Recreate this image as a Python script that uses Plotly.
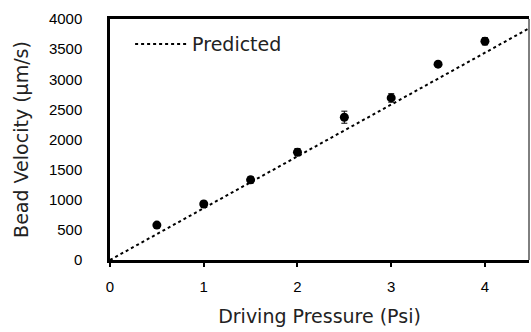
import plotly.graph_objects as go

pressure = [0.5, 1.0, 1.5, 2.0, 2.5, 3.0, 3.5, 4.0]
velocity = [580, 930, 1330, 1790, 2370, 2690, 3250, 3630]
velocity_err = [30, 45, 55, 60, 100, 70, 30, 60]
pred_x = [0, 4.5]
pred_y = [0, 3870]

fig = go.Figure()
fig.add_trace(go.Scatter(
    x=pred_x, y=pred_y, mode="lines", name="Predicted",
    line=dict(color="black", width=2, dash="dot"), showlegend=True))
fig.add_trace(go.Scatter(
    x=pressure, y=velocity, mode="markers", name="Measured",
    marker=dict(color="black", size=9),
    error_y=dict(type="data", array=velocity_err, color="black", thickness=1, width=3),
    showlegend=False))

title_font = "DejaVu Sans, sans-serif"
tick_font = "Liberation Sans, Arial, sans-serif"
fig.update_layout(
    width=531, height=332,
    margin=dict(l=110, r=2, t=19, b=72),
    paper_bgcolor="white", plot_bgcolor="white",
    font=dict(family=tick_font, color="black"),
    legend=dict(x=0.048, y=0.975, xanchor="left", yanchor="top",
                bgcolor="rgba(0,0,0,0)",
                font=dict(family=title_font, size=19, color="#222"),
                itemwidth=52),
    xaxis=dict(range=[0, 4.47], tickvals=[0, 1, 2, 3, 4], ticks="outside",
               ticklen=4, tickwidth=2, tickcolor="black",
               showline=True, linewidth=2.5, linecolor="black", mirror=True,
               showgrid=False, zeroline=False, automargin=False,
               tickfont=dict(size=15), ticklabelstandoff=7,
               title=dict(text="Driving Pressure (Psi)",
                          font=dict(family=title_font, size=19, color="#222"),
                          standoff=16)),
    yaxis=dict(range=[0, 4000], tickvals=list(range(0, 4001, 500)), ticks="",
               showline=True, linewidth=2.5, linecolor="black",
               showgrid=False, zeroline=False, automargin=False,
               tickfont=dict(size=15), ticklabelstandoff=22,
               title=dict(text="Bead Velocity (μm/s)",
                          font=dict(family=title_font, size=19, color="#222"),
                          standoff=16)),
)
fig.add_shape(type="line", xref="paper", yref="paper", x0=1, x1=1, y0=0, y1=1,
              line=dict(color="black", width=1))
fig.write_html("out.html", config={"displayModeBar": False},
               post_script="document.body.style.margin='0';document.body.style.overflow='hidden';")
